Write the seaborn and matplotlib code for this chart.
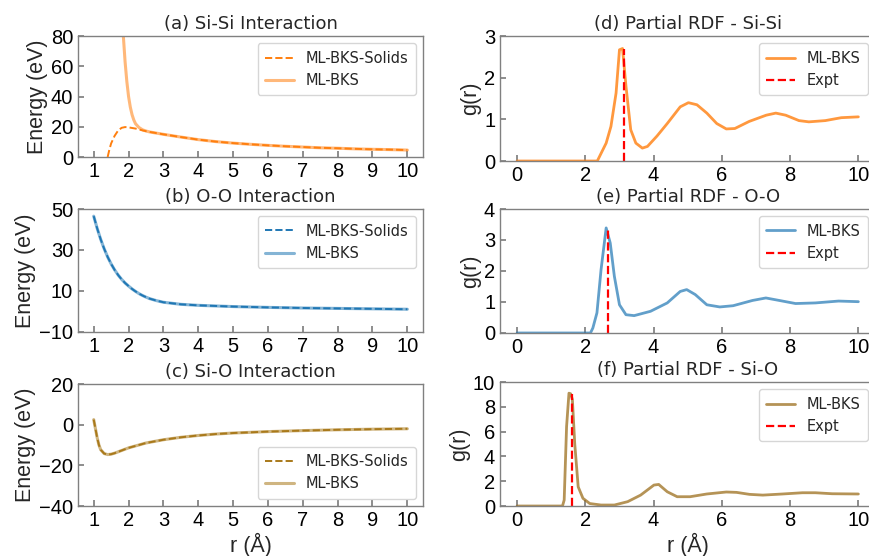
"""
Si-O pair potentials (ML-BKS vs ML-BKS-Solids) and partial RDFs
"""
import numpy as np
import matplotlib
matplotlib.use("Agg")
import matplotlib.pyplot as plt
import seaborn as sns

# ---- pair potentials ----
r_sisi_solids = [1.40, 1.45, 1.50, 1.60, 1.70, 1.80, 1.90, 2.00, 2.20, 2.40, 2.60, 2.80,
                 3.00, 3.50, 4.00, 4.50, 5.00, 5.50, 6.00, 6.50, 7.00, 7.50, 8.00,
                 8.50, 9.00, 9.50, 10.00]
e_sisi_solids = [0.0, 5.0, 9.0, 14.0, 17.5, 19.3, 19.8, 19.6, 18.8, 17.6, 16.6, 15.8,
                 15.0, 13.2, 11.5, 10.2, 9.2, 8.4, 7.7, 7.1, 6.6, 6.1, 5.8,
                 5.4, 5.1, 4.9, 4.6]
r_sisi_bks = [1.78, 1.80, 1.85, 1.90, 1.95, 2.00, 2.05, 2.10, 2.15, 2.20, 2.30, 2.40,
              2.50, 2.60, 2.80, 3.00, 3.50, 4.00, 4.50, 5.00, 5.50, 6.00, 6.50, 7.00,
              7.50, 8.00, 8.50, 9.00, 9.50, 10.00]
e_sisi_bks = [102.0, 95.0, 80.0, 63.0, 50.0, 40.0, 33.0, 28.0, 24.5, 22.0, 19.5, 18.0,
              17.2, 16.6, 15.8, 15.0, 13.2, 11.5, 10.2, 9.2, 8.4, 7.7, 7.1, 6.6,
              6.1, 5.8, 5.4, 5.1, 4.9, 4.6]

r_oo = [1.0, 1.1, 1.2, 1.3, 1.4, 1.5, 1.6, 1.7, 1.8, 1.9, 2.0, 2.1, 2.2, 2.3, 2.4,
        2.5, 2.6, 2.8, 3.0, 3.5, 4.0, 5.0, 6.0, 7.0, 8.0, 9.0, 10.0]
e_oo_solids = [46.5, 40.5, 35.2, 30.6, 26.6, 23.2, 20.3, 17.8, 15.7, 13.9, 12.4, 11.0,
               9.8, 8.7, 7.8, 7.0, 6.3, 5.3, 4.5, 3.5, 3.0, 2.4, 2.0, 1.7, 1.5, 1.3, 1.1]
e_oo_bks = [46.5, 40.5, 35.2, 30.6, 26.6, 23.2, 20.3, 17.8, 15.7, 13.9, 12.4, 11.0,
            9.8, 8.7, 7.8, 7.0, 6.3, 5.3, 4.5, 3.5, 3.0, 2.4, 2.0, 1.7, 1.5, 1.3, 1.1]

r_sio = [1.0, 1.05, 1.1, 1.15, 1.2, 1.3, 1.4, 1.5, 1.6, 1.8, 2.0, 2.5, 3.0, 3.5,
         4.0, 4.5, 5.0, 6.0, 7.0, 8.0, 9.0, 10.0]
e_sio_solids = [2.5, -2.0, -6.5, -10.0, -12.3, -14.2, -14.7, -14.5, -14.0, -12.7, -11.4,
                -9.0, -7.4, -6.2, -5.3, -4.6, -4.1, -3.4, -2.9, -2.5, -2.2, -2.0]
e_sio_bks = [2.5, -2.0, -6.5, -10.0, -12.3, -14.2, -14.7, -14.5, -14.0, -12.7, -11.4,
             -9.0, -7.4, -6.2, -5.3, -4.6, -4.1, -3.4, -2.9, -2.5, -2.2, -2.0]

# ---- partial RDFs ----
r_g_sisi = [0.0, 2.35, 2.61, 2.75, 2.90, 3.00, 3.09, 3.19, 3.33, 3.48, 3.67, 3.82,
            4.10, 4.40, 4.78, 5.02, 5.27, 5.56, 5.85, 6.13, 6.38, 6.80, 7.30, 7.58,
            7.87, 8.26, 8.55, 9.03, 9.50, 10.0]
g_sisi = [0.0, 0.0, 0.43, 0.83, 1.63, 2.67, 2.70, 1.80, 0.75, 0.43, 0.31, 0.35,
          0.60, 0.90, 1.30, 1.40, 1.35, 1.15, 0.90, 0.77, 0.78, 0.95, 1.10, 1.15,
          1.10, 0.97, 0.94, 0.97, 1.04, 1.06]

r_g_oo = [0.0, 2.15, 2.22, 2.34, 2.46, 2.61, 2.73, 2.85, 3.00, 3.19, 3.43, 3.91,
          4.40, 4.78, 4.97, 5.22, 5.56, 5.94, 6.33, 6.90, 7.29, 7.68, 8.16, 8.74,
          9.42, 10.0]
g_oo = [0.0, 0.0, 0.16, 0.65, 2.04, 3.39, 2.90, 1.83, 0.91, 0.59, 0.56, 0.70,
        0.97, 1.34, 1.40, 1.24, 0.91, 0.84, 0.88, 1.05, 1.13, 1.05, 0.95, 0.97,
        1.03, 1.01]

r_g_sio = [0.0, 1.33, 1.38, 1.45, 1.52, 1.57, 1.62, 1.69, 1.79, 1.93, 2.13, 2.46,
           2.85, 3.24, 3.62, 4.01, 4.15, 4.40, 4.69, 5.07, 5.56, 6.13, 6.43, 6.81,
           7.20, 7.78, 8.36, 8.74, 9.23, 10.0]
g_sio = [0.0, 0.0, 0.48, 6.40, 9.10, 9.05, 8.60, 5.00, 1.55, 0.62, 0.20, 0.08,
         0.08, 0.35, 0.88, 1.69, 1.74, 1.15, 0.75, 0.75, 0.97, 1.13, 1.10, 0.94,
         0.88, 0.97, 1.07, 1.07, 0.99, 0.97]

# experimental first-peak positions and heights
expt_r = {"Si-Si": 3.12, "O-O": 2.65, "Si-O": 1.61}
expt_h = {"Si-Si": 2.70, "O-O": 3.40, "Si-O": 9.05}

C_SISI = "#ff7f0e"
C_OO = "#1f77b4"
C_SIO = "#a9791a"
C_SIO_RDF = "#9c6f1e"

sns.set_theme(style="ticks", rc={
    "axes.edgecolor": "#808080",
    "axes.linewidth": 1.0,
    "xtick.direction": "in",
    "ytick.direction": "in",
    "xtick.color": "#808080",
    "ytick.color": "#808080",
    "xtick.labelcolor": "black",
    "ytick.labelcolor": "black",
    "xtick.major.size": 4,
    "ytick.major.size": 4,
})
plt.rcParams["font.family"] = ["DejaVu Sans"]

fig = plt.figure(figsize=(8.69, 5.56), dpi=100)

left_pos = [
    [0.0898, 0.7176, 0.397, 0.2176],
    [0.0898, 0.4029, 0.397, 0.2212],
    [0.0898, 0.0899, 0.397, 0.2194],
]
right_pos = [
    [0.5754, 0.7104, 0.432, 0.2248],
    [0.5754, 0.4011, 0.432, 0.2230],
    [0.5754, 0.0899, 0.432, 0.2230],
]

LBL = dict(fontsize=15.5, family="Liberation Sans")


def style_ticks(ax):
    for lab in ax.get_xticklabels() + ax.get_yticklabels():
        lab.set_family("Liberation Sans")
        lab.set_fontsize(14.5)


def potential_panel(pos, r_s, e_s, r_b, e_b, color, title, ylim, yticks, loc, xlabel=False):
    ax = fig.add_axes(pos)
    sns.lineplot(x=r_b, y=e_b, ax=ax, color=color, alpha=0.55, lw=2.2,
                 label="ML-BKS", zorder=2)
    sns.lineplot(x=r_s, y=e_s, ax=ax, color=color, lw=1.4, linestyle="--",
                 label="ML-BKS-Solids", zorder=3)
    ax.set_xlim(0.55, 10.45)
    ax.set_ylim(*ylim)
    ax.set_xticks(range(1, 11))
    ax.set_yticks(yticks)
    ax.set_title(title, fontsize=13, pad=5)
    ax.set_ylabel("Energy (eV)", labelpad=2, **LBL)
    ax.set_xlabel("r (Å)" if xlabel else "", labelpad=2, **LBL)
    h, l = ax.get_legend_handles_labels()
    ax.legend(h[::-1], l[::-1], loc=loc, fontsize=10.5, borderpad=0.5)
    style_ticks(ax)
    return ax


def rdf_panel(pos, r, g, key, color, alpha, title, ylim, yticks, xlabel=False):
    ax = fig.add_axes(pos)
    sns.lineplot(x=r, y=g, ax=ax, color=color, alpha=alpha, lw=2.0, label="ML-BKS")
    ax.vlines(expt_r[key], 0, expt_h[key], colors="red", linestyles="--", lw=1.6,
              label="Expt")
    ax.set_xlim(-0.5, 10.5)
    ax.set_ylim(*ylim)
    ax.set_xticks(range(0, 11, 2))
    ax.set_yticks(yticks)
    ax.set_title(title, fontsize=13, pad=5)
    ax.set_ylabel("g(r)", labelpad=2, **LBL)
    ax.set_xlabel("r (Å)" if xlabel else "", labelpad=2, **LBL)
    ax.legend(loc="upper right", fontsize=10.5, borderpad=0.5)
    style_ticks(ax)
    return ax


potential_panel(left_pos[0], r_sisi_solids, e_sisi_solids, r_sisi_bks, e_sisi_bks,
                C_SISI, "(a) Si-Si Interaction", (0, 80), [0, 20, 40, 60, 80], "upper right")
potential_panel(left_pos[1], r_oo, e_oo_solids, r_oo, e_oo_bks,
                C_OO, "(b) O-O Interaction", (-10, 50), [-10, 10, 30, 50], "upper right")
potential_panel(left_pos[2], r_sio, e_sio_solids, r_sio, e_sio_bks,
                C_SIO, "(c) Si-O Interaction", (-40, 20), [-40, -20, 0, 20], "lower right",
                xlabel=True)

rdf_panel(right_pos[0], r_g_sisi, g_sisi, "Si-Si", C_SISI, 0.8,
          "(d) Partial RDF - Si-Si", (0, 3), [0, 1, 2, 3])
rdf_panel(right_pos[1], r_g_oo, g_oo, "O-O", C_OO, 0.7,
          "(e) Partial RDF - O-O", (0, 4), [0, 1, 2, 3, 4])
rdf_panel(right_pos[2], r_g_sio, g_sio, "Si-O", C_SIO_RDF, 0.75,
          "(f) Partial RDF - Si-O", (0, 10), [0, 2, 4, 6, 8, 10], xlabel=True)

fig.savefig("out.png", dpi=100)
